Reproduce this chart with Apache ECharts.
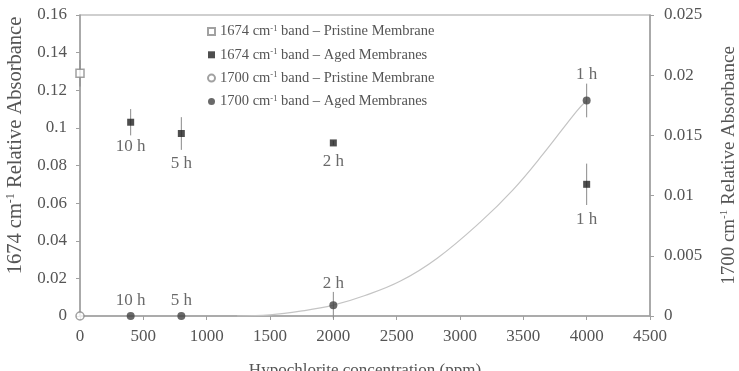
<!DOCTYPE html>
<html>
<head>
<meta charset="utf-8">
<script src="https://cdn.jsdelivr.net/npm/echarts@6/dist/echarts.min.js"></script>
<style>
html,body{margin:0;padding:0;background:#fff;}
#chart{width:739px;height:371px;}
</style>
</head>
<body>
<div id="chart"></div>
<script>
// ---- data ----
const pristine1674X = [0];
const pristine1674Y = [0.129];
const pristine1674Err = [0.007];

const aged1674X = [400, 800, 2000, 4000];
const aged1674Y = [0.103, 0.097, 0.092, 0.070];
const aged1674Err = [0.007, 0.0087, 0.0012, 0.011];
const aged1674Labels = ['10 h', '5 h', '2 h', '1 h'];

const pristine1700X = [0];
const pristine1700Y = [0];

const aged1700X = [400, 800, 2000, 4000];
const aged1700Y = [0, 0, 0.0009, 0.0179];
const aged1700Err = [0, 0, 0.0011, 0.0014];
const aged1700Labels = ['10 h', '5 h', '2 h', '1 h'];

const trendX = [1240, 1500, 1740, 2000, 2250, 2530, 2820, 3160, 3420, 3660, 3920, 4000];
const trendY = [0, 0.0001, 0.0004, 0.0009, 0.0017, 0.0029, 0.0048, 0.0078, 0.0105, 0.0135, 0.0170, 0.0179];

const xTicks = [0, 500, 1000, 1500, 2000, 2500, 3000, 3500, 4000, 4500];
const leftTicks = [0, 0.02, 0.04, 0.06, 0.08, 0.1, 0.12, 0.14, 0.16];
const rightTicks = [0, 0.005, 0.01, 0.015, 0.02, 0.025];

const legendNames = {
  p1674: '{t|1674 cm}{s|-1}{t| band – Pristine Membrane}',
  a1674: '{t|1674 cm}{s|-1}{t| band – Aged Membranes}',
  p1700: '{t|1700 cm}{s|-1}{t| band – Pristine Membrane}',
  a1700: '{t|1700 cm}{s|-1}{t| band – Aged Membranes}'
};

// ---- style ----
const FONT = "'Liberation Serif', 'Times New Roman', serif";
const AXIS = '#a0a0a0';
const TXT = '#555';

const lab1674Dist = [12, 18, 7, 23];
const lab1700Dist = [3, 3, 9, 13];

function zip(xs, ys) { return xs.map((x, i) => [x, ys[i]]); }

function errSeries(xs, ys, es, yIdx) {
  return {
    type: 'custom',
    yAxisIndex: yIdx,
    silent: true,
    z: 1,
    data: xs.map((x, i) => [x, ys[i] - es[i], ys[i] + es[i]]),
    renderItem: function (params, api) {
      const lo = api.coord([api.value(0), api.value(1)]);
      const hi = api.coord([api.value(0), api.value(2)]);
      return {
        type: 'line',
        shape: { x1: lo[0], y1: lo[1], x2: hi[0], y2: hi[1] },
        style: { stroke: '#8a8a8a', lineWidth: 1 }
      };
    }
  };
}

const chart = echarts.init(document.getElementById('chart'));
function richFor(size) {
  return {
    t: { fontFamily: FONT, fontSize: size, color: TXT },
    s: { fontFamily: FONT, fontSize: Math.round(size * 0.58), color: TXT, verticalAlign: 'top', padding: [0, 0, Math.round(size * 0.47), 0] }
  };
}

chart.setOption({
  animation: false,
  backgroundColor: '#fff',
  grid: {
    left: 80, right: 89, top: 15, bottom: 55,
    containLabel: false, outerBoundsMode: 'none',
    show: true, borderColor: AXIS, borderWidth: 1.2, backgroundColor: 'transparent'
  },
  legend: {
    orient: 'vertical',
    left: 202,
    top: 19,
    itemGap: 8.3,
    itemWidth: 7,
    itemHeight: 7,
    data: [
      { name: 'p1674', icon: 'rect' },
      { name: 'a1674', icon: 'rect' },
      { name: 'p1700', icon: 'circle' },
      { name: 'a1700', icon: 'circle' }
    ],
    formatter: function (n) { return legendNames[n]; },
    textStyle: {
      fontFamily: FONT, fontSize: 14.5, color: TXT,
      rich: {
        t: { fontFamily: FONT, fontSize: 14.5, color: TXT },
        s: { fontFamily: FONT, fontSize: 8.5, color: TXT, verticalAlign: 'top', padding: [0, 0, 6, 0] }
      }
    }
  },
  xAxis: {
    type: 'value',
    min: xTicks[0], max: xTicks[xTicks.length - 1], interval: 500,
    splitLine: { show: false },
    axisLine: { lineStyle: { color: AXIS, width: 1.5 } },
    axisTick: { show: true, inside: false, length: 4, lineStyle: { color: AXIS } },
    axisLabel: { margin: 12, fontFamily: FONT, fontSize: 17, color: TXT, formatter: function (v) { return String(v); } },
    name: 'Hypochlorite concentration (ppm)',
    nameLocation: 'middle',
    nameGap: 46,
    nameTextStyle: { fontFamily: FONT, fontSize: 17, color: TXT }
  },
  yAxis: [
    {
      type: 'value', position: 'left',
      min: leftTicks[0], max: leftTicks[leftTicks.length - 1], interval: 0.02,
      splitLine: { show: false },
      axisLine: { show: true, lineStyle: { color: AXIS, width: 1.5 } },
      axisTick: { show: true, length: 4, lineStyle: { color: AXIS } },
      axisLabel: { margin: 13, fontFamily: FONT, fontSize: 17, color: TXT, formatter: function (v) { return String(+v.toFixed(3)); } },
      name: '{t|1674 cm}{s|-1}{t| Relative Absorbance}',
      nameLocation: 'middle',
      nameRotate: 90,
      nameGap: 53,
      nameTextStyle: { fontFamily: FONT, fontSize: 20.5, color: TXT, rich: richFor(20.5), padding: [0, 0, 0, 40] }
    },
    {
      type: 'value', position: 'right',
      min: rightTicks[0], max: rightTicks[rightTicks.length - 1], interval: 0.005,
      splitLine: { show: false },
      axisLine: { show: true, lineStyle: { color: AXIS, width: 1.5 } },
      axisTick: { show: true, length: 4, lineStyle: { color: AXIS } },
      axisLabel: { margin: 14, fontFamily: FONT, fontSize: 17, color: TXT, formatter: function (v) { return String(+v.toFixed(4)); } },
      name: '{t|1700 cm}{s|-1}{t| Relative Absorbance}',
      nameLocation: 'middle',
      nameRotate: 90,
      nameGap: 69,
      nameTextStyle: { fontFamily: FONT, fontSize: 19, color: TXT, rich: richFor(19) }
    }
  ],
  series: [
    {
      name: 'trend', type: 'line', yAxisIndex: 1, smooth: 0.4,
      showSymbol: false, silent: true, z: 0,
      lineStyle: { color: '#c4c4c4', width: 1.2 },
      data: zip(trendX, trendY)
    },
    errSeries(pristine1674X, pristine1674Y, pristine1674Err, 0),
    errSeries(aged1674X, aged1674Y, aged1674Err, 0),
    errSeries(aged1700X, aged1700Y, aged1700Err, 1),
    {
      name: 'p1674', type: 'scatter', yAxisIndex: 0, symbol: 'rect', symbolSize: 8, z: 3,
      itemStyle: { color: '#fff', borderColor: '#8a8a8a', borderWidth: 1.5 },
      data: zip(pristine1674X, pristine1674Y)
    },
    {
      name: 'a1674', type: 'scatter', yAxisIndex: 0, symbol: 'rect', symbolSize: 7, z: 3,
      itemStyle: { color: '#222' },
      data: aged1674X.map((x, i) => ({
        value: [x, aged1674Y[i]],
        label: {
          show: true, position: 'bottom', distance: lab1674Dist[i],
          formatter: aged1674Labels[i], fontFamily: FONT, fontSize: 17, color: '#444'
        }
      }))
    },
    {
      name: 'p1700', type: 'scatter', yAxisIndex: 1, symbol: 'circle', symbolSize: 8, z: 3,
      itemStyle: { color: '#fff', borderColor: '#8a8a8a', borderWidth: 1.5 },
      data: zip(pristine1700X, pristine1700Y)
    },
    {
      name: 'a1700', type: 'scatter', yAxisIndex: 1, symbol: 'circle', symbolSize: 8, z: 3,
      itemStyle: { color: '#444' },
      data: aged1700X.map((x, i) => ({
        value: [x, aged1700Y[i]],
        label: {
          show: true, position: 'top', distance: lab1700Dist[i],
          formatter: aged1700Labels[i], fontFamily: FONT, fontSize: 17, color: '#444'
        }
      }))
    }
  ]
});
</script>
</body>
</html>
